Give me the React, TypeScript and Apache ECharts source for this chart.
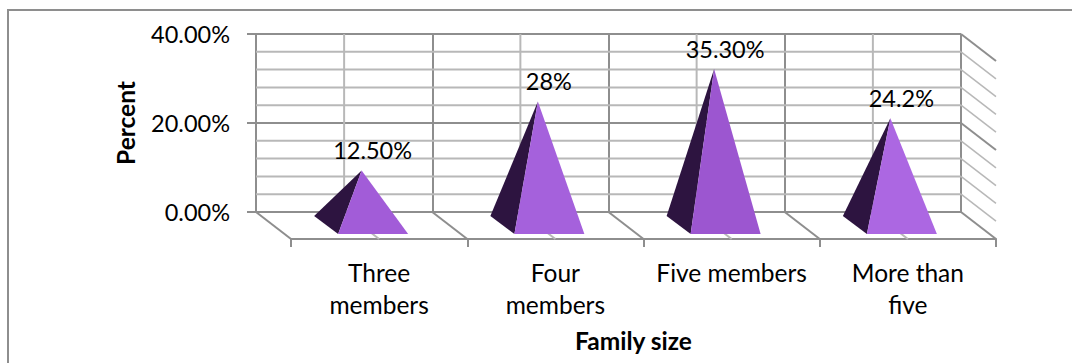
import React, { useEffect, useRef } from "react";
import * as echarts from "echarts";

const categories = ["Three\nmembers", "Four\nmembers", "Five members", "More than\nfive"];
const percentValues = [12.5, 28, 35.3, 24.2];
const valueLabels = ["12.50%", "28%", "35.30%", "24.2%"];
const faceColors = ["#A25CD8", "#A561DC", "#9C56D0", "#AC67E2"];
const sideColor = "#2D1440";
const gridValues = [0, 4, 8, 12, 16, 20, 24, 28, 32, 36, 40];
const FONT = "Lato, 'Open Sans', sans-serif";
const DEPTH_X = 35;
const DEPTH_Y = 27;

const gray = "#8E8E8E";
const lightGray = "#B8B8B8";

export default function App() {
  const ref = useRef<HTMLDivElement>(null);
  useEffect(() => {
    const chart = echarts.init(ref.current!, undefined, { renderer: "svg" });
    chart.setOption({
      animation: false,
      backgroundColor: "#fff",
      grid: [
        { left: 256, top: 34, width: 705, height: 178 },
        { left: 291, top: 61, width: 705, height: 178 },
      ],
      xAxis: [
        {
          type: "category",
          gridIndex: 0,
          data: categories,
          axisLine: { show: false },
          axisTick: { show: false },
          axisLabel: { show: false },
          splitLine: { show: true, interval: 0, lineStyle: { color: gray, width: 2 } },
        },
        {
          type: "category",
          gridIndex: 1,
          data: categories,
          axisLine: { show: true, lineStyle: { color: gray, width: 2 } },
          axisTick: { show: true, length: 8, interval: 0, lineStyle: { color: gray, width: 2 } },
          axisLabel: {
            show: true,
            interval: 0,
            margin: 17,
            color: "#000",
            fontFamily: FONT,
            fontSize: 24.5,
            lineHeight: 32,
          },
          name: "Family size",
          nameLocation: "middle",
          nameGap: 89,
          nameTextStyle: { color: "#000", fontFamily: FONT, fontSize: 24.5, fontWeight: "bold", padding: [0, 20, 0, 0] },
        },
      ],
      yAxis: [
        {
          type: "value",
          gridIndex: 0,
          min: 0,
          max: 40,
          interval: 20,
          minorTick: { show: false },
          axisLine: { show: true, lineStyle: { color: gray, width: 2 } },
          axisTick: { show: true, length: 9, lineStyle: { color: gray, width: 2 } },
          axisLabel: {
            margin: 26,
            color: "#000",
            fontFamily: FONT,
            fontSize: 23.5,
            formatter: (v: number) => v.toFixed(2) + "%",
          },
          splitLine: { show: true, lineStyle: { color: gray, width: 2 } },
          name: "Percent",
          nameLocation: "middle",
          nameGap: 118,
          nameRotate: 90,
          nameTextStyle: { color: "#000", fontFamily: FONT, fontSize: 24.5, fontWeight: "bold" },
        },
        { type: "value", gridIndex: 1, min: 0, max: 40, interval: 20, show: false, splitLine: { show: false } },
      ],
      series: [
        {
          // Minor gridlines, centre lines, floor and side wall of the box
          type: "custom",
          xAxisIndex: 0,
          yAxisIndex: 0,
          silent: true,
          z: 1,
          data: gridValues.map((v) => [0, v]),
          encode: { x: 0, y: 1 },
          renderItem: (params: any, api: any) => {
            const v = api.value(1);
            const band = api.size([1, 0])[0];
            const left = api.coord([0, v])[0] - band / 2;
            const right = left + band * categories.length;
            const y = api.coord([0, v])[1];
            const children: any[] = [];
            const isMajor = v % 20 === 0;
            if (!isMajor) {
              children.push({
                type: "line",
                shape: { x1: left, y1: y, x2: right, y2: y },
                style: { stroke: lightGray, lineWidth: 2 },
              });
            }
            children.push({
              type: "line",
              shape: { x1: right, y1: y, x2: right + DEPTH_X, y2: y + DEPTH_Y },
              style: { stroke: isMajor ? gray : lightGray, lineWidth: isMajor ? 2 : 1.5 },
            });
            if (v === 0) {
              const top = api.coord([0, 40])[1];
              categories.forEach((_, i) => {
                const cx = left + band * (i + 0.5);
                children.push({
                  type: "line",
                  shape: { x1: cx, y1: top, x2: cx, y2: y },
                  style: { stroke: lightGray, lineWidth: 2 },
                });
                children.push({
                  type: "line",
                  shape: { x1: cx, y1: y, x2: cx + DEPTH_X, y2: y + DEPTH_Y },
                  style: { stroke: lightGray, lineWidth: 2 },
                });
                const bx = left + band * i;
                children.push({
                  type: "line",
                  shape: { x1: bx, y1: y, x2: bx + DEPTH_X, y2: y + DEPTH_Y },
                  style: { stroke: gray, lineWidth: 2 },
                });
              });
              children.push({
                type: "line",
                shape: { x1: left, y1: top, x2: left, y2: y },
                style: { stroke: gray, lineWidth: 2 },
              });
              children.push({
                type: "line",
                shape: { x1: right, y1: top, x2: right, y2: y },
                style: { stroke: gray, lineWidth: 2 },
              });
            }
            return { type: "group", children };
          },
        },
        {
          // Pyramids: a dark left face and a lit front face
          type: "custom",
          xAxisIndex: 0,
          yAxisIndex: 0,
          z: 5,
          data: percentValues.map((v, i) => [i, v]),
          encode: { x: 0, y: 1 },
          renderItem: (params: any, api: any) => {
            const i = api.value(0);
            const [cx, vy] = api.coord([i, api.value(1)]);
            const base = api.coord([i, 0])[1];
            const apex = [cx + 17.5, vy + 14];
            const frontLeft = [cx - 6, base + 22];
            const frontRight = [cx + 64, base + 22];
            const backLeft = [cx - 30, base + 4];
            return {
              type: "group",
              children: [
                {
                  type: "polygon",
                  shape: { points: [apex, backLeft, frontLeft] },
                  style: { fill: sideColor },
                },
                {
                  type: "polygon",
                  shape: { points: [apex, frontLeft, frontRight] },
                  style: { fill: faceColors[i] },
                },
                {
                  type: "text",
                  style: {
                    x: apex[0] + 11,
                    y: apex[1] - 8,
                    text: valueLabels[i],
                    fill: "#000",
                    font: `23.5px ${FONT}`,
                    textAlign: "center",
                    textVerticalAlign: "bottom",
                  },
                },
              ],
            };
          },
        },
      ],
      graphic: [
        {
          type: "rect",
          silent: true,
          shape: { x: 8, y: 10, width: 1150, height: 400 },
          style: { fill: "none", stroke: gray, lineWidth: 2 },
        },
      ],
    });
    return () => chart.dispose();
  }, []);
  return <div ref={ref} style={{ position: "fixed", left: 0, top: 0, width: 1072, height: 363 }} />;
}
